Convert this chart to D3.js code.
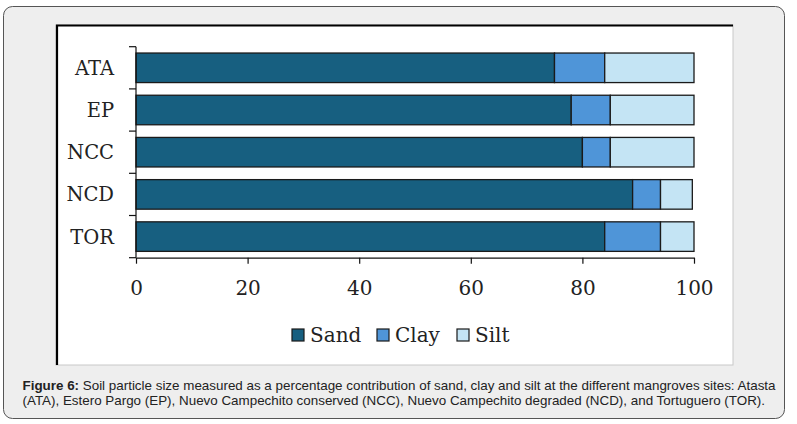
<!DOCTYPE html>
<html><head><meta charset="utf-8">
<script src="https://cdn.jsdelivr.net/npm/d3@7"></script>
<style>
html,body{margin:0;padding:0;background:#fff;}
svg{display:block;}
</style></head>
<body>
<svg id="chart" width="797" height="424"></svg>
<script>
const sites = ["ATA","EP","NCC","NCD","TOR"];
const seriesNames = ["Sand","Clay","Silt"];
const sand = [75, 78, 80, 89, 84];
const clay = [9, 7, 5, 5, 10];
const silt = [16, 15, 15, 5.7, 6];
const xTicks = [0, 20, 40, 60, 80, 100];
const colors = ["#175f80", "#4f95d8", "#c4e4f4"];
const captionBold = "Figure 6:";
const captionLine1 = " Soil particle size measured as a percentage contribution of sand, clay and silt at the different mangroves sites: Atasta";
const captionLine2 = "(ATA), Estero Pargo (EP), Nuevo Campechito conserved (NCC), Nuevo Campechito degraded (NCD), and Tortuguero (TOR).";

const rows = sites.map((s,i)=>({site:s, Sand:sand[i], Clay:clay[i], Silt:silt[i]}));
const stacked = d3.stack().keys(seriesNames)(rows);

const svg = d3.select("#chart");

// outer rounded box
svg.append("rect").attr("x",3.5).attr("y",6.5).attr("width",781).attr("height",412)
  .attr("rx",9).attr("fill","#eeeeee").attr("stroke","#555").attr("stroke-width",1);

// chart panel
svg.append("rect").attr("x",56).attr("y",25).attr("width",677).attr("height",340)
  .attr("fill","#fff").attr("stroke","#c8c8c8").attr("stroke-width",1);
svg.append("path").attr("d","M57,365 V25.5 H733").attr("fill","none").attr("stroke","#000").attr("stroke-width",2.2);

const x = d3.scaleLinear().domain([0,100]).range([136,694]);
const y = d3.scaleBand().domain(sites).range([46.7,257.7]).paddingInner(0.3).paddingOuter(0.15);

const serif = "'DejaVu Serif', serif";

// bars
svg.append("g").selectAll("g").data(stacked).join("g")
  .attr("fill",(d,i)=>colors[i])
  .selectAll("rect").data(d=>d).join("rect")
  .attr("x",d=>x(d[0])).attr("width",d=>x(d[1])-x(d[0]))
  .attr("y",d=>y(d.data.site)).attr("height",y.bandwidth())
  .attr("stroke","#1a1a1a").attr("stroke-width",1.3);

// x axis
const xAxis = svg.append("g").attr("transform","translate(0,257.7)")
  .call(d3.axisBottom(x).tickValues(xTicks).tickSize(6).tickSizeOuter(0).tickPadding(17));
xAxis.select(".domain").attr("stroke","#111").attr("stroke-width",1.2);
xAxis.selectAll(".tick line").attr("stroke","#111").attr("stroke-width",1.2);
xAxis.selectAll("text").attr("font-family",serif).attr("font-size",20).attr("fill","#222");

// y axis
const yBand = d3.scaleBand().domain(sites).range([46.7,257.7]);
const yAxisG = svg.append("g").attr("transform","translate(136,0)");
yAxisG.append("line").attr("x1",0).attr("x2",0).attr("y1",46.7).attr("y2",257.7)
  .attr("stroke","#111").attr("stroke-width",1.2);
const yTickPos = sites.map(s=>yBand(s)).concat([yBand.range()[1]]);
yAxisG.selectAll("line.t").data(yTickPos).join("line").attr("class","t")
  .attr("x1",-7).attr("x2",0).attr("y1",d=>d).attr("y2",d=>d)
  .attr("stroke","#111").attr("stroke-width",1.2);
yAxisG.selectAll("text").data(sites).join("text")
  .attr("x",-22).attr("y",d=>yBand(d)+yBand.bandwidth()/2)
  .attr("dy","0.36em").attr("text-anchor","end")
  .attr("font-family",serif).attr("font-size",19.5).attr("fill","#222").text(d=>d);

// legend
const legendX = [292, 377, 457];
const lg = svg.append("g").selectAll("g").data(seriesNames).join("g")
  .attr("transform",(d,i)=>`translate(${legendX[i]},329)`);
lg.append("rect").attr("width",12).attr("height",12).attr("fill",(d,i)=>colors[i])
  .attr("stroke","#1a1a1a").attr("stroke-width",1.2);
lg.append("text").attr("x",18).attr("y",6).attr("dy","0.36em")
  .attr("font-family",serif).attr("font-size",20).attr("fill","#222").text(d=>d);

// caption
const cap = svg.append("g").attr("font-family","'Liberation Sans', Arial, sans-serif")
  .attr("font-size",13.4).attr("fill","#222");
const t1 = cap.append("text").attr("x",22.5).attr("y",390);
t1.append("tspan").attr("font-weight","bold").text(captionBold);
t1.append("tspan").text(captionLine1);
cap.append("text").attr("x",22.5).attr("y",405).text(captionLine2);
</script>
</body></html>
